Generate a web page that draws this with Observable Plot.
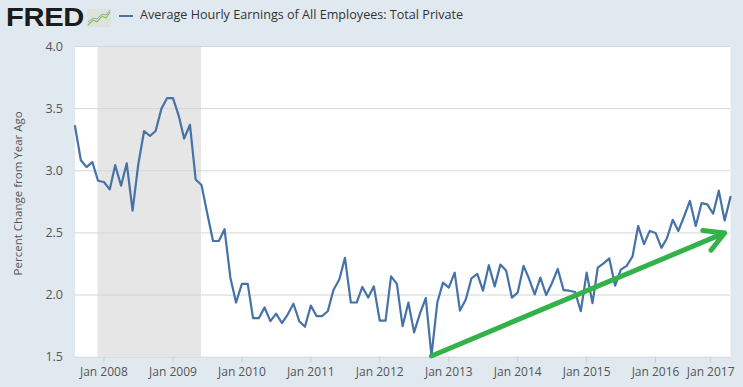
<!DOCTYPE html>
<html><head><meta charset="utf-8">
<script src="https://cdn.jsdelivr.net/npm/d3@7"></script>
<script src="https://cdn.jsdelivr.net/npm/@observablehq/plot@0.6"></script>
<style>
body{margin:0;background:#e1e9f0;font-family:"Open Sans",sans-serif;width:743px;height:387px;overflow:hidden;}
#header{position:relative;height:36px;width:743px;}
#logo{position:absolute;left:6px;top:2px;font-family:"Liberation Sans",Arial,sans-serif;font-weight:bold;font-size:26px;color:#1c1c1c;transform:scaleX(1.12);transform-origin:left center;letter-spacing:-0.3px;}
#icon{position:absolute;left:87px;top:9px;}
#legline{position:absolute;left:119px;top:15px;width:14px;height:2px;background:#4572a7;}
#legtext{position:absolute;left:140px;top:6px;font-size:12.6px;color:#333;}
#chart svg{display:block;}
</style></head>
<body>
<div id="header">
  <div id="logo">FRED</div>
  <svg id="icon" width="24" height="18" viewBox="0 0 24 18"><rect x="0" y="0" width="24" height="18" fill="#dde3d8"/><polyline points="1,16 6,11 10,13 15,7 19,9 23,3" fill="none" stroke="#8fbf6a" stroke-width="1.3"/><polyline points="1,13 6,9 10,10 15,5 19,6 23,1" fill="none" stroke="#9aa7b5" stroke-width="1"/></svg>
  <div id="legline"></div>
  <div id="legtext">Average Hourly Earnings of All Employees: Total Private</div>
</div>
<div id="chart"></div>
<script>
const firstMonth = "2007-08-01";
const values = [
  3.36, 3.085, 3.03, 3.07, 2.92,
  2.91, 2.85, 3.045, 2.88, 3.06, 2.68, 3.05, 3.32, 3.28, 3.32, 3.50, 3.585,
  3.585, 3.44, 3.26, 3.37, 2.93, 2.885, 2.66, 2.435, 2.435, 2.53, 2.14, 1.94,
  2.09, 2.09, 1.815, 1.815, 1.90, 1.79, 1.85, 1.775, 1.845, 1.93, 1.79, 1.745,
  1.915, 1.83, 1.83, 1.87, 2.04, 2.125, 2.30, 1.94, 1.94, 2.065, 1.98, 2.07,
  1.795, 1.795, 2.15, 2.09, 1.75, 1.94, 1.70, 1.85, 1.976, 1.51, 1.94, 2.10,
  2.06, 2.18, 1.875, 1.965, 2.135, 2.17, 2.035, 2.24, 2.07, 2.245, 2.195, 1.98,
  2.02, 2.235, 2.135, 2.005, 2.14, 2.0, 2.095, 2.21, 2.04, 2.035, 2.025, 1.87,
  2.18, 1.935, 2.22, 2.255, 2.295, 2.075, 2.205, 2.235, 2.31, 2.556, 2.41, 2.516,
  2.50, 2.38, 2.455, 2.605, 2.516, 2.636, 2.757, 2.556, 2.74, 2.73, 2.655, 2.84,
  2.60, 2.79
];
const recessionStart = ["2007-12-01"];
const recessionEnd = ["2009-06-01"];
const yTicks = [1.5, 2.0, 2.5, 3.0, 3.5, 4.0];
const xTickYears = [2008, 2009, 2010, 2011, 2012, 2013, 2014, 2015, 2016, 2017];
const trendFrom = {date: "2012-10-01", value: 1.51};
const trendTo = {date: "2017-01-01", value: 2.5};
const seriesLabel = "Average Hourly Earnings of All Employees: Total Private";
const yLabel = "Percent Change from Year Ago";

const start = new Date(firstMonth);
const data = values.map((v, i) => ({date: d3.utcMonth.offset(start, i), value: v}));
const recessions = recessionStart.map((s, i) => ({start: new Date(s), end: new Date(recessionEnd[i])}));
const xTicks = xTickYears.map(y => new Date(Date.UTC(y, 0, 1)));
const fmt = d3.utcFormat("%b %Y");
const trend = [{x1: new Date(trendFrom.date), y1: trendFrom.value, x2: new Date(trendTo.date), y2: trendTo.value}];

const chart = Plot.plot({
  width: 743,
  height: 351,
  marginLeft: 74.5,
  marginRight: 13,
  marginTop: 10,
  marginBottom: 30.3,
  style: {background: "#e1e9f0", fontFamily: "'Open Sans', sans-serif", overflow: "visible"},
  x: {type: "utc", domain: [data[0].date, data[data.length - 1].date]},
  y: {domain: [1.5, 4.0]},
  marks: [
    Plot.frame({fill: "white", stroke: "none"}),
    Plot.rectX(recessions, {x1: "start", x2: "end", y1: 1.5, y2: 4.0, fill: "#e6e6e6"}),
    Plot.gridY(yTicks, {stroke: "#d6d6d6", strokeOpacity: 1, strokeWidth: 1}),
    Plot.axisY(yTicks, {tickSize: 0, tickPadding: 12, tickFormat: d3.format(".1f"), fontSize: 12.5, fill: "#555", label: null}),
    Plot.axisX(xTicks.slice(0, -1), {tickSize: 6, tickPadding: 4, tickFormat: fmt, fontSize: 12, fill: "#555", stroke: "#c5ced8", label: null}),
    Plot.axisX(xTicks.slice(-1), {tickSize: 6, tickPadding: 4, tickFormat: fmt, fontSize: 12, fill: "#555", stroke: "#c5ced8", label: null, dx: -14}),
    Plot.text([yLabel], {frameAnchor: "left", textAnchor: "middle", rotate: -90, dx: -57, dy: -8.5, fontSize: 11.5, fill: "#555"}),
    Plot.line(data, {x: "date", y: "value", stroke: "#4572a7", strokeWidth: 2.2}),
    Plot.arrow(trend, {x1: "x1", y1: "y1", x2: "x2", y2: "y2", stroke: "#33b24a", strokeWidth: 5, headLength: 6.6, headAngle: 58, strokeLinecap: "round"})
  ]
});
document.getElementById("chart").appendChild(chart);
</script>
</body></html>
